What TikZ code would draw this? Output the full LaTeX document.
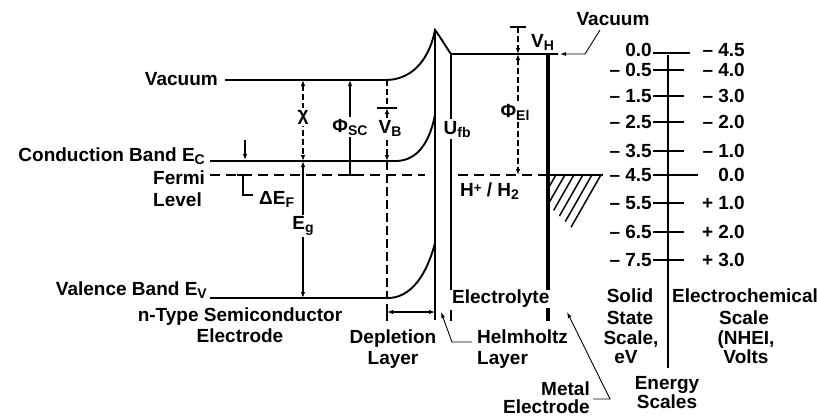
\documentclass[tikz,border=0pt]{standalone}
\usepackage{fontspec}
\setmainfont{Liberation Sans}
\usetikzlibrary{arrows.meta}
\newcommand\mysub[1]{\raisebox{-3pt}{\fontsize{14}{14}\selectfont #1}}
\newcommand\mysup[1]{\raisebox{4pt}{\fontsize{13}{13}\selectfont #1}}
\begin{document}
\begin{tikzpicture}[x=1pt,y=-1pt,
  lbl/.style={font=\fontsize{19}{21}\selectfont\bfseries, inner sep=0pt},
  blank/.style={lbl, fill=white, inner sep=1.5pt},
  band/.style={line width=1.9pt},
  thinline/.style={line width=1.6pt},
  metal/.style={line width=3.2pt},
  tipa/.style={-{Latex[length=6pt,width=4.5pt]}},
  tipb/.style={{Latex[length=6pt,width=4.5pt]}-{Latex[length=6pt,width=4.5pt]}},
  dim/.style={line width=1.1pt},
  dsh/.style={dash pattern=on 6pt off 3pt},
  fermi/.style={line width=1.5pt, dash pattern=on 10pt off 6pt},
  leader/.style={line width=0.9pt, -{Latex[length=6pt,width=4pt]}},
  tick/.style={line width=1.3pt}
]
\useasboundingbox (0,0) rectangle (817,418);

% ---------- key coordinates ----------
\coordinate (vacL) at (225,80);
\coordinate (vacR) at (387,80);
\coordinate (peak) at (435,30);
\coordinate (cbL) at (210,161);
\coordinate (cbR) at (397,161);
\coordinate (cbI) at (435,115);
\coordinate (vbL) at (210,298);
\coordinate (vbR) at (390,298);
\coordinate (vbI) at (435,243);
\coordinate (ifB) at (435,320);
\coordinate (elT) at (451,54);
\coordinate (elB) at (451,290);
\coordinate (elT2) at (451,310);
\coordinate (elB2) at (451,321);
\coordinate (meT) at (548,54);
\coordinate (meB) at (548,290);
\coordinate (meT2) at (548,308);
\coordinate (meB2) at (548,321);
\coordinate (vacE) at (558,54);

% Fermi / H+/H2 level
\coordinate (fL) at (210,175);
\coordinate (fM) at (425,175);
\coordinate (fN) at (458,175);
\coordinate (fMe) at (548,175);
\coordinate (fR) at (603,175);

% ---------- bands ----------
\draw[band] (vacL) -- (vacR) .. controls (415,79) and (430,56) .. (peak)
            .. controls (441,38) and (446,47) .. (elT) -- (vacE);
\draw[band] (cbL) -- (cbR) .. controls (419,160) and (430,140) .. (cbI);
\draw[band] (vbL) -- (vbR) .. controls (416,296) and (429,266) .. (vbI);
\draw[thinline] (peak) -- (ifB);
\draw[thinline] (elT) -- (elB);
\draw[thinline] (elT2) -- (elB2);
\draw[metal] (meT) -- (meB);
\draw[metal] (meT2) -- (meB2);

\draw[fermi] (fL) -- (fM);
\draw[fermi] (fN) -- (fMe);
\draw[band] (fMe) -- (fR);

% hatch below H+/H2 level
\begin{scope}
  \clip (548,175) -- (604,175) -- (572,228) -- (548,205) -- cycle;
  \foreach \t in {557,566,575,584,593,602}
    \draw[line width=1.5pt] (\t,173) -- ++(-40,70);
\end{scope}

% ---------- dimension marks ----------
% chi and Eg
\coordinate (chiT) at (303,80);
\coordinate (chiB) at (303,161);
\coordinate (egB) at (303,298);
\draw[dim,dsh,tipb] (chiT) -- (chiB);
\draw[dim,tipb] (chiB) -- (egB);
% Phi_SC
\coordinate (sfT) at (350,80);
\coordinate (sfB) at (350,175);
\coordinate (sfBl) at (344,175);
\coordinate (sfBr) at (357,175);
\draw[dim,tipa] (sfB) -- (sfT);
\draw[dim] (sfBl) -- (sfBr);
% V_B and depletion boundary
\coordinate (vxT) at (387,80);
\coordinate (vxBar) at (387,108);
\coordinate (vBl) at (377,108);
\coordinate (vBr) at (397,108);
\coordinate (vxC) at (387,161);
\coordinate (vxV) at (387,298);
\coordinate (dpT) at (387,304);
\coordinate (dpB) at (387,321);
\coordinate (dpL) at (387,312);
\coordinate (dpR) at (435,312);
\draw[dim,dsh] (vxT) -- (vxBar);
\draw[dim] (vBl) -- (vBr);
\draw[dim,dsh,tipb] (vxBar) -- (vxC);
\draw[line width=1.5pt,dash pattern=on 9pt off 4pt] (vxC) -- (vxV);
\draw[line width=2.4pt] (dpT) -- (dpB);
\draw[dim,tipb] (dpL) -- (dpR);
% Delta E_F
\coordinate (deT) at (245,140);
\coordinate (deB) at (245,160);
\coordinate (fbl) at (237,175);
\coordinate (fbr) at (250,175);
\coordinate (fb) at (243,175);
\coordinate (fbd) at (243,195);
\coordinate (fbe) at (253,195);
\draw[dim,tipa] (deT) -- (deB);
\draw[dim] (fbl) -- (fbr);
\draw[dim] (fb) -- (fbd) -- (fbe);
% Phi_El and V_H
\coordinate (peT) at (518,54);
\coordinate (peB) at (518,175);
\coordinate (vhT) at (518,27);
\coordinate (vhl) at (510,27);
\coordinate (vhr) at (526,27);
\draw[dim,dsh,tipb] (peT) -- (peB);
\draw[dim] (vhl) -- (vhr);
\draw[dim,dsh,tipa] (vhT) -- (peT);

% leaders
\coordinate (vA) at (560,54);
\coordinate (vK) at (585,54);
\coordinate (vE) at (600,30);
\draw[leader] (vE) -- (vK) -- (vA);
\coordinate (hA) at (441,312);
\coordinate (hK) at (452,342);
\coordinate (hE) at (472,342);
\draw[leader] (hE) -- (hK) -- (hA);
\coordinate (mA) at (567,312);
\coordinate (mK) at (610,399);
\coordinate (mE) at (593,399);
\draw[leader] (mE) -- (mK) -- (mA);

% ---------- labels ----------
\node[lbl,anchor=base east] (tVacL) at (218,85) {Vacuum};
\node[lbl,anchor=base east] (tCB) at (205,161) {Conduction Band E\mysub{C}};
\node[lbl,anchor=base west] (tFermi) at (153,184) {Fermi};
\node[lbl,anchor=base west] (tLevel) at (153,206) {Level};
\node[lbl,anchor=base west] (tdEF) at (259,204) {ΔE\mysub{F}};
\node[lbl,anchor=base east] (tVB) at (207,295) {Valence Band E\mysub{V}};
\node[lbl,anchor=base] (tnT) at (240,321) {n-Type Semiconductor};
\node[lbl,anchor=base] (tnE) at (240,342) {Electrode};
\node[blank] (tchi) at (303,117) {χ};
\node[blank] (tEg) at (303,226) {E\mysub{g}};
\node[blank] (tPsc) at (350,127) {Φ\mysub{SC}};
\node[blank] (tVBd) at (390,128) {V\mysub{B}};
\node[blank,anchor=base west] (tUfb) at (442,134) {U\mysub{fb}};
\node[blank] (tPel) at (515,112) {Φ\mysub{El}};
\node[lbl,anchor=base west] (tVH) at (531,47) {V\mysub{H}};
\node[lbl,anchor=base] (tVacR) at (613,25) {Vacuum};
\node[lbl,anchor=base west] (tHH) at (460,196) {H\mysup{+} / H\mysub{2}};
\node[lbl,anchor=base west] (tEl) at (452,303) {Electrolyte};
\node[lbl,anchor=base] (tDep) at (393,343) {Depletion};
\node[lbl,anchor=base] (tDepL) at (393,364) {Layer};
\node[lbl,anchor=base west] (tHel) at (477,343) {Helmholtz};
\node[lbl,anchor=base west] (tHelL) at (477,364) {Layer};
\node[lbl,anchor=base east] (tMet) at (590,395) {Metal};
\node[lbl,anchor=base east] (tMetE) at (590,413) {Electrode};

% ---------- energy scales ----------
\coordinate (sT) at (668,55);
\coordinate (sB) at (668,368);
\draw[line width=1.5pt] (sT) -- (sB);
\foreach \n/\v/\y in {a/0.0/50, b/– 0.5/70, c/– 1.5/96, d/– 2.5/122, e/– 3.5/151,
                      f/– 4.5/175, g/– 5.5/203, h/– 6.5/232, i/– 7.5/260}
  \node[lbl,anchor=east] (L\n) at (652,\y) {\v};
\foreach \n/\v/\y in {a/– 4.5/50, b/– 4.0/70, c/– 3.0/96, d/– 2.0/122, e/– 1.0/151,
                      f/0.0/175, g/+ 1.0/203, h/+ 2.0/232, i/+ 3.0/260}
  \node[lbl,anchor=east] (R\n) at (745,\y) {\v};
\coordinate (z0) at (653,53);
\coordinate (z1) at (690,53);
\draw[line width=2.6pt] (z0) -- (z1);
\draw[line width=2.4pt] (Lb.east) ++(1,0) -- ++(31,0);
\foreach \n in {c,d,e,g,h,i}
  \draw[tick] (L\n.east) ++(1,0) -- ++(31,0);
\draw[tick] (Lf.east) ++(1,0) -- ++(45,0);

\node[lbl,anchor=base] (sS1) at (630,302) {Solid};
\node[lbl,anchor=base] (sS2) at (630,324) {State};
\node[lbl,anchor=base] (sS3) at (631,344) {Scale,};
\node[lbl,anchor=base] (sS4) at (626,363) {eV};
\node[lbl,anchor=base] (sE1) at (745,302) {Electrochemical};
\node[lbl,anchor=base] (sE2) at (744,324) {Scale};
\node[lbl,anchor=base] (sE3) at (746,344) {(NHEI,};
\node[lbl,anchor=base] (sE4) at (746,363) {Volts};
\node[lbl,anchor=base] (sN1) at (667,389) {Energy};
\node[lbl,anchor=base] (sN2) at (667,408) {Scales};
\end{tikzpicture}
\end{document}
